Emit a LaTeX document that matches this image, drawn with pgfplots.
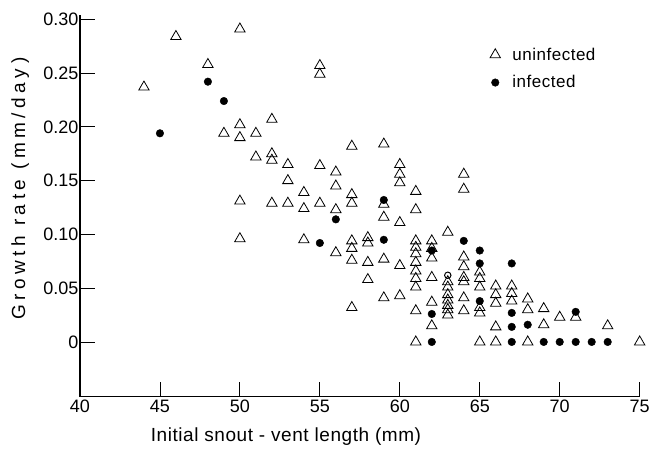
\documentclass[border=0pt]{standalone}
\usepackage{fontspec}
\setmainfont{Liberation Sans}
\newfontfamily\xlabfont{Liberation Sans}[LetterSpace=3]
\newfontfamily\ylabfont{Liberation Sans}[LetterSpace=24]
\newfontfamily\legfont{Liberation Sans}[LetterSpace=3]
\usepackage{pgfplots}
\pgfplotsset{compat=1.18}
\begin{document}
\begin{tikzpicture}
\begin{axis}[
  scale only axis, width=560pt, height=382pt,
  xmin=40, xmax=75, ymin=-0.051, ymax=0.304,
  axis x line=bottom, axis y line=left,
  axis line style={-, line width=1.2pt},
  tick align=inside, major tick length=15pt,
  every tick/.style={black, line width=0.8pt},
  xtick={40,45,...,75},
  ytick={0,0.05,0.10,0.15,0.20,0.25,0.30},
  yticklabels={0,0.05,0.10,0.15,0.20,0.25,0.30},
  xticklabels={40,45,50,55,60,65,70,75},
  tick label style={font=\fontsize{18}{21}\selectfont},
  yticklabel style={xshift=2pt},
  xlabel={Initial snout - vent length (mm)},
  ylabel={Growth rate (mm/day)},
  xlabel style={font=\xlabfont\fontsize{19}{22}\selectfont, at={(axis description cs:0.368,-0.105)}, anchor=center},
  ylabel style={font=\ylabfont\fontsize{19}{22}\selectfont, at={(axis description cs:-0.107,0.545)}, anchor=center},
  clip=false,
  legend style={at={(rel axis cs:0.727,0.925)}, anchor=north west, draw=none, fill=none,
    font=\legfont\fontsize{17}{20}\selectfont, row sep=10pt, column sep=10pt},
  legend cell align=left,
]
\path (rel axis cs:-0.1429,-0.1361) rectangle (rel axis cs:1.0232,1.0393);
\addplot[only marks, mark=triangle, mark size=6pt, mark options={line width=0.8pt, fill=white}, black] coordinates {
(44,0.237) (46,0.284) (48,0.258) (49,0.194)
(50,0.291) (50,0.202) (50,0.190) (50,0.131) (50,0.096)
(51,0.194) (51,0.172)
(52,0.207) (52,0.175) (52,0.169) (52,0.129)
(53,0.165) (53,0.150) (53,0.129)
(54,0.139) (54,0.124) (54,0.095)
(55,0.257) (55,0.249) (55,0.164) (55,0.129)
(56,0.158) (56,0.145) (56,0.123) (56,0.083)
(57,0.182) (57,0.137) (57,0.129) (57,0.094) (57,0.087) (57,0.076) (57,0.032)
(58,0.097) (58,0.092) (58,0.074) (58,0.058)
(59,0.184) (59,0.128) (59,0.116) (59,0.077) (59,0.041)
(60,0.165) (60,0.156) (60,0.148) (60,0.111) (60,0.071) (60,0.043)
(61,0.140) (61,0.123) (61,0.094) (61,0.088) (61,0.082) (61,0.074) (61,0.066) (61,0.059) (61,0.051) (61,0.029) (61,0)
(62,0.094) (62,0.087) (62,0.078) (62,0.060) (62,0.037) (62,0.015)
(63,0.102) (63,0.056) (63,0.051) (63,0.044) (63,0.039) (63,0.034) (63,0.030) (63,0.025)
(64,0.156) (64,0.142) (64,0.079) (64,0.070) (64,0.060) (64,0.056) (64,0.041) (64,0.029)
(65,0.065) (65,0.059) (65,0.051) (65,0.032) (65,0.027) (65,0)
(66,0.052) (66,0.044) (66,0.036) (66,0.014) (66,0)
(67,0.052) (67,0.045) (67,0.038)
(68,0.040) (68,0.030) (68,0)
(69,0.031) (69,0.016)
(70,0.023) (71,0.023) (73,0.015) (75,0)
};
\addlegendentry{uninfected}
\addplot[only marks, mark=*, mark size=3.8pt, black] coordinates {
(45,0.194) (48,0.242) (49,0.224)
(55,0.092) (56,0.114)
(59,0.132) (59,0.095)
(62,0.085) (62,0.026) (62,0)
(64,0.094)
(65,0.085) (65,0.073) (65,0.038)
(67,0.073) (67,0.027) (67,0.014) (67,0)
(68,0.016) (69,0) (70,0) (71,0.028) (71,0) (72,0) (73,0)
};
\addlegendentry{infected}
\addplot[only marks, mark=o, mark size=3.2pt, mark options={line width=1pt}, black, forget plot] coordinates {(63,0.062)};
\end{axis}
\end{tikzpicture}
\end{document}
